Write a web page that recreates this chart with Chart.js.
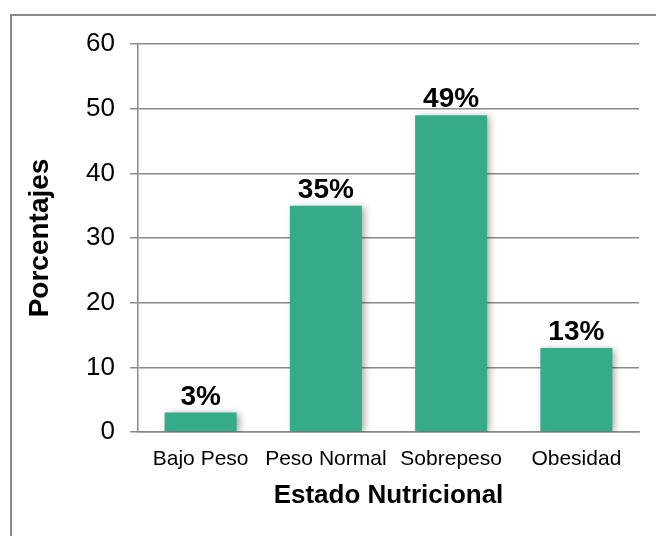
<!DOCTYPE html>
<html>
<head>
<meta charset="utf-8">
<script src="https://cdn.jsdelivr.net/npm/chart.js@4"></script>
<style>
  body { margin: 0; background: #fff; }
  canvas { display: block; }
</style>
</head>
<body>
<canvas id="myChart" width="656" height="536"></canvas>
<script>
var categorias = ['Bajo Peso', 'Peso Normal', 'Sobrepeso', 'Obesidad'];
var porcentajes = [3, 35, 49, 13];
var etiquetas = ['3%', '35%', '49%', '13%'];

var fuente = "'Liberation Sans', Arial, sans-serif";

// marco exterior del grafico
var marco = {
    id: 'marco',
    beforeDraw: function (chart) {
        var c = chart.ctx;
        c.save();
        c.strokeStyle = '#8a8a8a';
        c.lineWidth = 2;
        c.strokeRect(11, 15, 700, 600);
        c.restore();
    }
};

// sombra suave de las barras
var sombra = {
    id: 'sombra',
    beforeDatasetDraw: function (chart) {
        var c = chart.ctx;
        c.save();
        c.shadowColor = 'rgba(0, 0, 0, 0.35)';
        c.shadowBlur = 7;
        c.shadowOffsetX = 3;
        c.shadowOffsetY = 1;
    },
    afterDatasetDraw: function (chart) {
        chart.ctx.restore();
    }
};

// etiquetas de porcentaje sobre las barras
var rotulos = {
    id: 'rotulos',
    afterDraw: function (chart) {
        var c = chart.ctx;
        var meta = chart.getDatasetMeta(0);
        c.save();
        c.fillStyle = '#000';
        c.font = 'bold 28px ' + fuente;
        c.textAlign = 'center';
        c.textBaseline = 'alphabetic';
        meta.data.forEach(function (bar, i) {
            c.fillText(etiquetas[i], bar.x, bar.y - 8);
        });
        c.restore();
    }
};

var ctx = document.getElementById('myChart').getContext('2d');
var myChart = new Chart(ctx, {
    type: 'bar',
    data: {
        labels: categorias,
        datasets: [{
            label: 'Porcentajes',
            data: porcentajes,
            backgroundColor: '#36ab8a',
            borderWidth: 0,
            categoryPercentage: 1,
            barPercentage: 0.575
        }]
    },
    options: {
        responsive: false,
        animation: false,
        layout: {
            padding: { left: 23, top: 44, right: 17, bottom: 25 }
        },
        plugins: {
            legend: { display: false },
            tooltip: { enabled: false }
        },
        scales: {
            x: {
                grid: { display: false, drawTicks: false },
                border: { display: true, color: '#8a8a8a', width: 1.5 },
                ticks: {
                    color: '#000',
                    padding: 15,
                    maxRotation: 0,
                    font: { family: fuente, size: 21 }
                },
                title: {
                    display: true,
                    text: 'Estado Nutricional',
                    color: '#000',
                    padding: 0,
                    font: { family: fuente, size: 26, weight: 'bold' }
                },
                afterFit: function (scale) { scale.height = 536 - 432 - 25; }
            },
            y: {
                min: 0,
                max: 60,
                ticks: {
                    stepSize: 10,
                    color: '#000',
                    padding: 15,
                    font: { family: fuente, size: 26 }
                },
                grid: { color: '#8a8a8a', lineWidth: 1.5, tickLength: 8 },
                border: { display: true, color: '#8a8a8a', width: 1.5 },
                title: {
                    display: true,
                    text: 'Porcentajes',
                    color: '#000',
                    padding: 0,
                    font: { family: fuente, size: 28, weight: 'bold' }
                },
                afterFit: function (scale) { scale.width = 138 - 23; }
            }
        }
    },
    plugins: [marco, sombra, rotulos]
});
</script>
</body>
</html>
